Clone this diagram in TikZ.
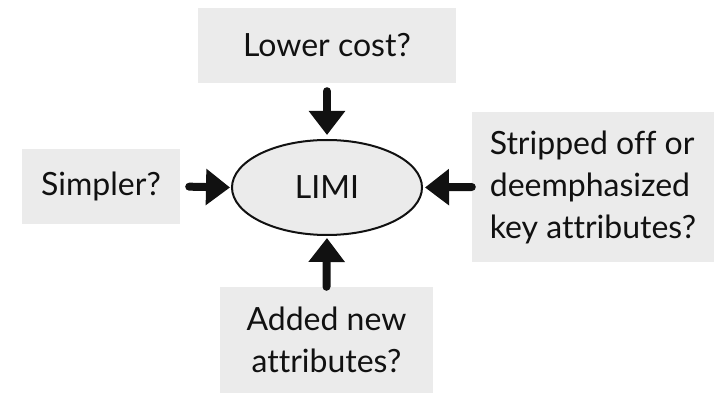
\documentclass[tikz,border=0pt]{standalone}
\usepackage{fontspec}
\setmainfont{Lato}[Ligatures={NoCommon,NoDiscretionary,NoRare}]
\usetikzlibrary{arrows.meta,shapes.geometric}
\definecolor{boxgray}{HTML}{EBEBEB}
\definecolor{ink}{HTML}{111111}
\begin{document}
\begin{tikzpicture}[x=1pt,y=-1pt,
  qbox/.style={fill=boxgray,inner sep=0pt,font=\fontsize{32}{42}\selectfont,text=ink},
  push/.style={draw=ink,line width=8pt,line cap=round,
    -{Triangle[width=35pt,length=24pt]}}]
\useasboundingbox (0,0) rectangle (716,393);
% central product
\node[ellipse,draw=ink,line width=2pt,fill=boxgray,minimum width=190pt,minimum height=95pt,
  font=\fontsize{32}{42}\selectfont,text=ink] (limi) at (327,187.5) {LIMI};
% surrounding questions
\node[qbox,minimum width=258pt,minimum height=75pt] (cost) at (327,45.5) {Lower cost?};
\node[qbox,minimum width=158pt,minimum height=75pt] (simple) at (101,186.5) {Simpler?};
\node[qbox,minimum width=242pt,minimum height=150pt,align=left] (strip) at (593,187)
  {Stripped off or\\deemphasized\\key attributes?};
\node[qbox,minimum width=213pt,minimum height=106pt,align=center] (added) at (326.5,340)
  {Added new\\attributes?};
% arrows pointing in
\draw[push,shorten <=8pt,shorten >=4pt] (cost.south) -- (limi.north);
\draw[push,shorten <=9pt,shorten >=1pt] (simple.east) -- (limi.west);
\draw[push,shorten <=0pt,shorten >=2pt] (strip.west) -- (limi.east);
\draw[push,shorten <=0pt,shorten >=2pt] (added.north) -- (limi.south);
\end{tikzpicture}
\end{document}
